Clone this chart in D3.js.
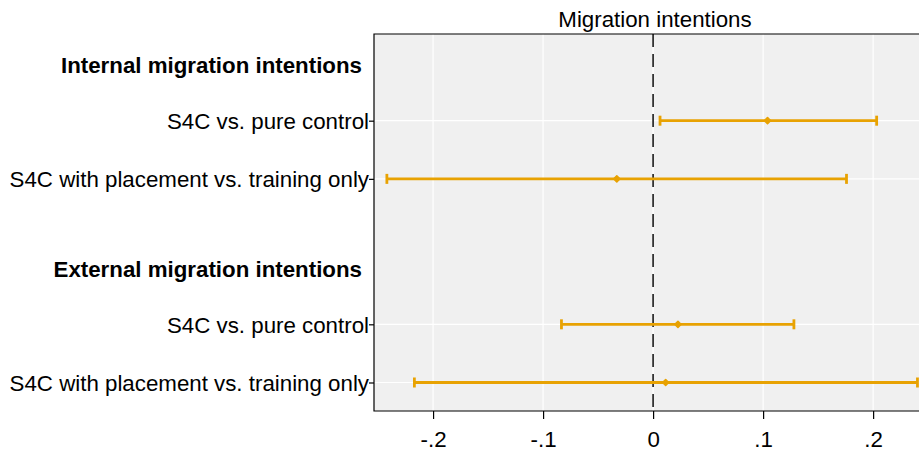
<!DOCTYPE html>
<html><head><meta charset="utf-8">
<script src="https://cdn.jsdelivr.net/npm/d3@7"></script>
<style>body{margin:0;background:#fff}svg{display:block}text{font-family:"Liberation Sans",Arial,sans-serif}</style>
</head><body><svg id="c" width="919" height="451"></svg>
<script>
const title = "Migration intentions";
const headers = ["Internal migration intentions", "External migration intentions"];
const headerPos = [0.05, 3.55];
const labels = ["S4C vs. pure control", "S4C with placement vs. training only", "S4C vs. pure control", "S4C with placement vs. training only"];
const rowPos = [1, 2, 4.5, 5.5];
const estimates = [0.104, -0.033, 0.0226, 0.0114];
const lower = [0.0063, -0.242, -0.0833, -0.217];
const upper = [0.2032, 0.1758, 0.128, 0.2403];
const xTicks = [-0.2, -0.1, 0, 0.1, 0.2];
const xTickLabels = ["-.2", "-.1", "0", ".1", ".2"];

const svg = d3.select("#c");
const L = 374, R = 930, T = 34, B = 411;
const FS = 22.3;
const x = d3.scaleLinear().domain([-0.2537, 0.2517]).range([L, R]);
const y = d3.scaleLinear().domain([-0.49, 5.99]).range([T, B]);
const col = "#E8A202";

svg.append("rect").attr("x", L).attr("y", T).attr("width", R - L).attr("height", B - T).attr("fill", "#f0f0f0");
// grid
svg.append("g").selectAll("line").data(xTicks).join("line")
  .attr("x1", d => x(d)).attr("x2", d => x(d)).attr("y1", T).attr("y2", B)
  .attr("stroke", "#fff").attr("stroke-width", 1.2);
svg.append("g").selectAll("line").data(rowPos).join("line")
  .attr("x1", L).attr("x2", R).attr("y1", d => y(d)).attr("y2", d => y(d))
  .attr("stroke", "#fff").attr("stroke-width", 1.2);
// zero line
svg.append("line").attr("x1", x(0)).attr("x2", x(0)).attr("y1", T).attr("y2", B)
  .attr("stroke", "#333").attr("stroke-width", 1.8).attr("stroke-dasharray", "13,7");
// frame
svg.append("path").attr("d", `M${R},${T}H${L}V${B}H${R}`).attr("fill", "none").attr("stroke", "#000").attr("stroke-width", 1.2);

// x axis
const xa = svg.append("g").attr("transform", `translate(0,${B})`)
  .call(d3.axisBottom(x).tickValues(xTicks).tickFormat((d, i) => xTickLabels[i]).tickSize(8).tickPadding(12));
xa.select(".domain").remove();
xa.selectAll("text").attr("font-size", FS).attr("fill", "#000").style("font-family", "Liberation Sans, Arial, sans-serif");
xa.selectAll("line").attr("stroke", "#000").attr("stroke-width", 1.2);

// y axis
const ya = svg.append("g").attr("transform", `translate(${L},0)`)
  .call(d3.axisLeft(y).tickValues(rowPos).tickFormat((d, i) => labels[i]).tickSize(5).tickPadding(0));
ya.select(".domain").remove();
ya.selectAll("text").attr("font-size", FS).attr("fill", "#000").style("font-family", "Liberation Sans, Arial, sans-serif").attr("dy", "0.35em");
ya.selectAll("line").attr("stroke", "#000").attr("stroke-width", 1.2);

svg.append("g").selectAll("text").data(headers).join("text")
  .attr("x", L - 12).attr("y", (d, i) => y(headerPos[i])).attr("dy", "0.35em")
  .attr("text-anchor", "end").attr("font-size", FS).attr("font-weight", "bold").text(d => d);

svg.append("text").attr("x", 655).attr("y", 27).attr("text-anchor", "middle").attr("font-size", FS).text(title);

// CIs
const g = svg.append("g");
const marker = d3.symbol().type(d3.symbolSquare).size(18);
rowPos.forEach((p, i) => {
  const yy = y(p);
  g.append("line").attr("x1", x(lower[i])).attr("x2", x(upper[i])).attr("y1", yy).attr("y2", yy).attr("stroke", col).attr("stroke-width", 2.8);
  [lower[i], upper[i]].forEach(v => g.append("line").attr("x1", x(v)).attr("x2", x(v)).attr("y1", yy - 5).attr("y2", yy + 5).attr("stroke", col).attr("stroke-width", 2.8));
  g.append("path").attr("d", marker).attr("transform", `translate(${x(estimates[i])},${yy}) rotate(45)`).attr("fill", col).attr("stroke", col).attr("stroke-width", 1.6).attr("stroke-linejoin", "round");
});
</script></body></html>
